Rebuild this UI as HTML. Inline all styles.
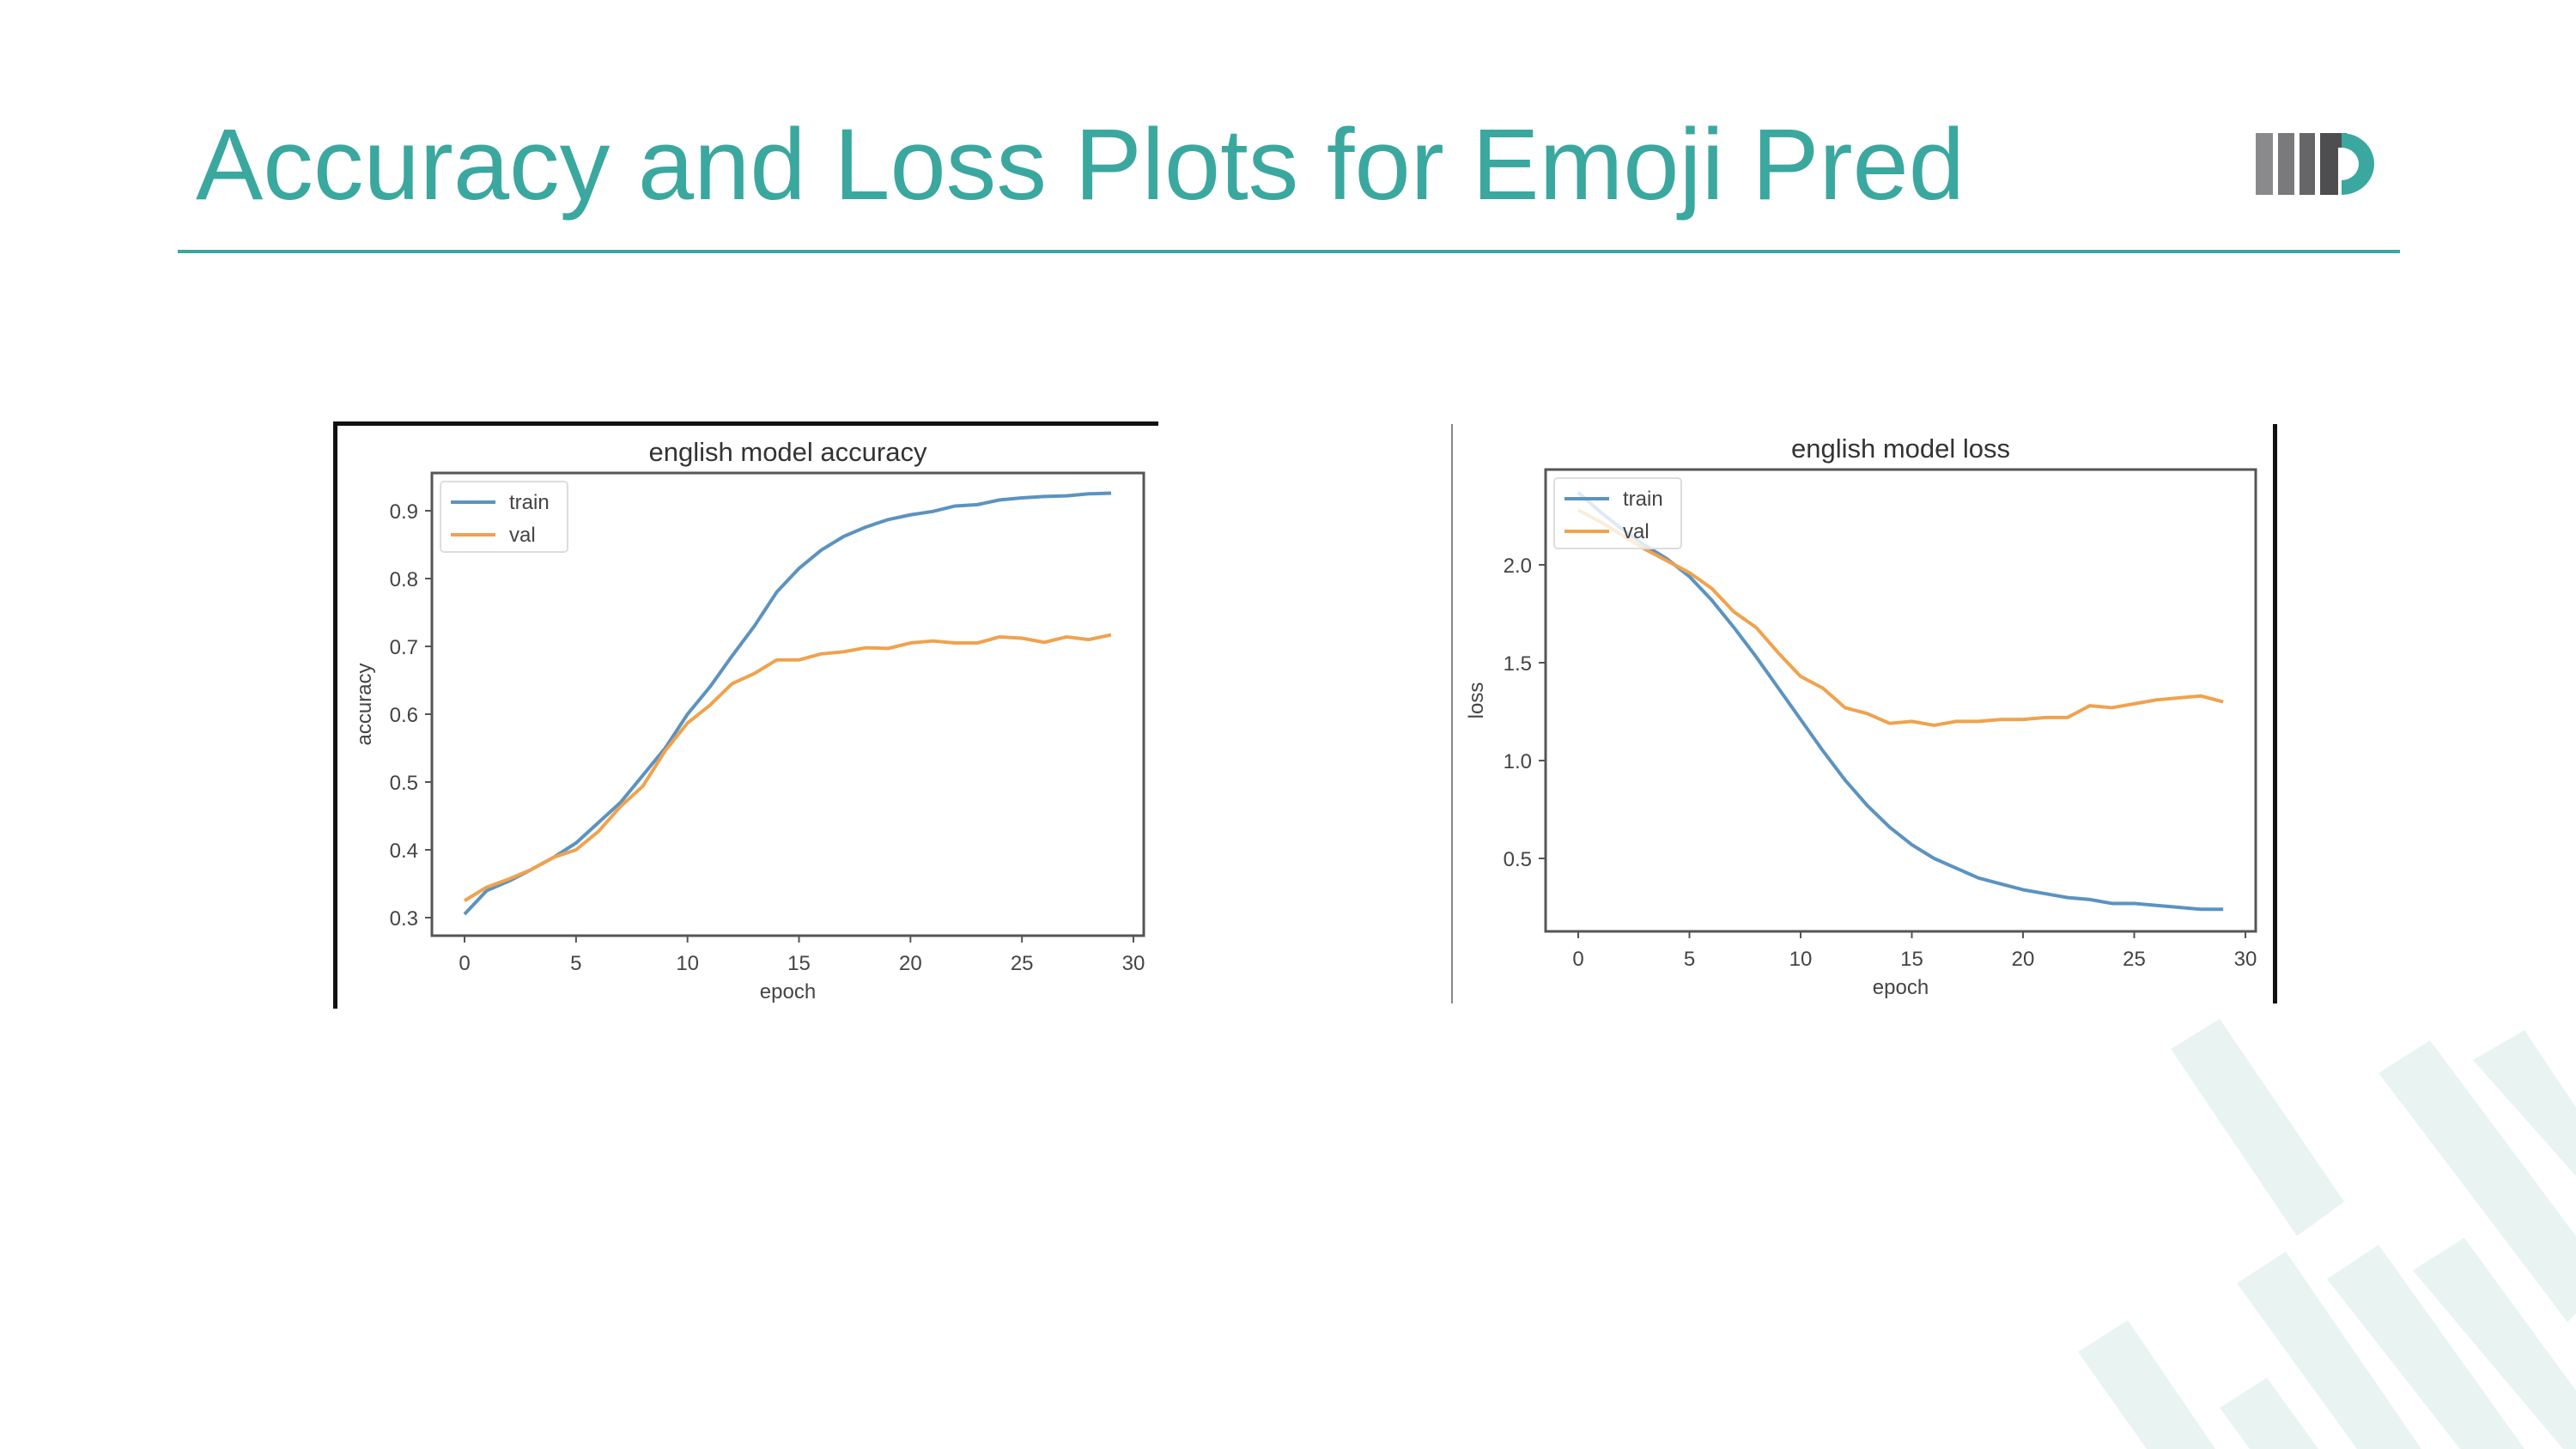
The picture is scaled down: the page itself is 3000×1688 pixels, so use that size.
<!DOCTYPE html>
<html><head><meta charset="utf-8"><style>
html,body{margin:0;padding:0;background:#fff;}
svg{display:block;font-family:"Liberation Sans",sans-serif;}
</style></head><body>
<svg id="s" width="3000" height="1688" viewBox="0 0 3000 1688" xmlns="http://www.w3.org/2000/svg">
<g fill="#e9f4f2">
<polygon points="2528,1222 2585,1187 2730,1400 2675,1440"/>
<polygon points="2770,1250 2830,1212 3000,1440 3000,1530 2990,1540"/>
<polygon points="2880,1235 2940,1200 3000,1290 3000,1370"/>
<polygon points="2605,1495 2662,1458 2820,1688 2745,1688"/>
<polygon points="2710,1490 2770,1450 2940,1688 2865,1688"/>
<polygon points="2810,1480 2870,1442 3000,1620 3000,1688 2985,1688"/>
<polygon points="2420,1575 2478,1538 2580,1688 2500,1688"/>
<polygon points="2585,1640 2640,1605 2700,1688 2620,1688"/>
</g>
<text x="228" y="232" font-size="118" fill="#3aa89f" font-family="'Liberation Sans',sans-serif" textLength="2060" lengthAdjust="spacingAndGlyphs">Accuracy and Loss Plots for Emoji Pred</text>
<rect x="207" y="291" width="2588" height="4" fill="#3aa89f"/>
<g>
<rect x="2627" y="155" width="20" height="72" fill="#8a8a8c"/>
<rect x="2653" y="155" width="19" height="72" fill="#7a7a7c"/>
<rect x="2678" y="155" width="18" height="72" fill="#666668"/>
<path d="M2702,155 H2733 V172 H2723 V227 H2702 Z" fill="#4e4e50"/>
<path d="M2727,155 A38,36 0 0 1 2727,227 V210 A20,19 0 0 0 2727,172 Z" fill="#3aa89f"/>
</g>
<rect x="388" y="492" width="5" height="683" fill="#111"/>
<rect x="388" y="491" width="961" height="5" fill="#111"/>
<rect x="1690" y="494" width="2" height="675" fill="#888"/>
<rect x="2647" y="494" width="5" height="675" fill="#111"/>
<g id="c1"></g>
<g id="c2"></g>
</svg>
<script>
const epochs = [0,1,2,3,4,5,6,7,8,9,10,11,12,13,14,15,16,17,18,19,20,21,22,23,24,25,26,27,28,29];
const accTrain = [0.305,0.34,0.354,0.371,0.389,0.41,0.44,0.47,0.51,0.55,0.60,0.64,0.686,0.73,0.78,0.815,0.842,0.862,0.876,0.887,0.894,0.899,0.907,0.909,0.916,0.919,0.921,0.922,0.925,0.926];
const accVal = [0.325,0.345,0.357,0.371,0.389,0.40,0.427,0.464,0.494,0.546,0.587,0.613,0.645,0.66,0.68,0.68,0.689,0.692,0.698,0.697,0.705,0.708,0.705,0.705,0.714,0.712,0.706,0.714,0.71,0.717];
const lossTrain = [2.37,2.27,2.18,2.10,2.03,1.94,1.82,1.68,1.53,1.37,1.21,1.05,0.90,0.77,0.66,0.57,0.50,0.45,0.40,0.37,0.34,0.32,0.30,0.29,0.27,0.27,0.26,0.25,0.24,0.24];
const lossVal = [2.28,2.22,2.15,2.08,2.02,1.96,1.88,1.76,1.68,1.55,1.43,1.37,1.27,1.24,1.19,1.20,1.18,1.20,1.20,1.21,1.21,1.22,1.22,1.28,1.27,1.29,1.31,1.32,1.33,1.30];
const xTicks = [0,5,10,15,20,25,30];
const accTicks = [0.3,0.4,0.5,0.6,0.7,0.8,0.9];
const accTickLabels = ["0.3","0.4","0.5","0.6","0.7","0.8","0.9"];
const lossTicks = [0.5,1.0,1.5,2.0];
const lossTickLabels = ["0.5","1.0","1.5","2.0"];

const NS='http://www.w3.org/2000/svg';
function mk(parent, tag, attrs){const e=document.createElementNS(NS,tag);for(const k in attrs)e.setAttribute(k,attrs[k]);parent.appendChild(e);return e;}

function chart(g, cfg){
  const sx=v=>cfg.x0px+(v-0)*(cfg.x30px-cfg.x0px)/30;
  const sy=v=>cfg.yApx+(v-cfg.yA)*(cfg.yBpx-cfg.yApx)/(cfg.yB-cfg.yA);
  const box=mk(g,'rect',{x:cfg.L,y:cfg.T,width:cfg.R-cfg.L,height:cfg.B-cfg.T,fill:'#fff',stroke:'#555','stroke-width':3});
  
  
  xTicks.forEach(t=>{
    const x=sx(t);
    const l=mk(g,'line',{x1:x,x2:x,y1:cfg.B,y2:cfg.B+8,stroke:'#555','stroke-width':2});
    
    
    const tx=mk(g,'text',{x:x,y:cfg.B+40,'font-size':24,'text-anchor':'middle',fill:'#444'});
    
    
    tx.textContent=t;
  });
  cfg.ticks.forEach((t,i)=>{
    const y=sy(t);
    const l=mk(g,'line',{x1:cfg.L-8,x2:cfg.L,y1:y,y2:y,stroke:'#555','stroke-width':2});
    
    
    const tx=mk(g,'text',{x:cfg.L-16,y:y+9,'font-size':24,'text-anchor':'end',fill:'#444'});
    
    
    tx.textContent=cfg.tickLabels[i];
  });
  [[cfg.train,'#5b93c0','train-line'],[cfg.val,'#f0a24e','val-line']].forEach(([d,c,n])=>{
    const p=mk(g,'polyline',{points:d.map((v,i)=>sx(epochs[i])+','+sy(v)).join(' '),fill:'none',stroke:c,'stroke-width':4,'stroke-linejoin':'round'});
    
    
  });
  const t=mk(g,'text',{x:(cfg.L+cfg.R)/2,y:cfg.T-14,'font-size':31,'text-anchor':'middle',fill:'#333'});
  
  
  t.textContent=cfg.title;
  const xl=mk(g,'text',{x:(cfg.L+cfg.R)/2,y:cfg.B+73,'font-size':24,'text-anchor':'middle',fill:'#444'});
  
  
  xl.textContent='epoch';
  const yl=mk(g,'text',{x:0,y:0,'font-size':24,'text-anchor':'middle',fill:'#444',transform:'translate('+cfg.ylx+','+(cfg.T+cfg.B)/2+') rotate(-90)'});
  
  
  yl.textContent=cfg.ylabel;
  const lg=mk(g,'g',{});
  
  
  mk(lg,'rect',{x:cfg.L+10,y:cfg.T+10,width:148,height:82,rx:4,fill:'rgba(255,255,255,0.8)',stroke:'#ddd','stroke-width':2});
  [['train','#5b93c0',cfg.T+34],['val','#f0a24e',cfg.T+72]].forEach(([n,c,y])=>{
    const e=mk(lg,'g',{});
    
    
    mk(e,'line',{x1:cfg.L+22,x2:cfg.L+74,y1:y,y2:y,stroke:c,'stroke-width':4});
    const tx=mk(e,'text',{x:cfg.L+90,y:y+8,'font-size':24,fill:'#444'});
    tx.textContent=n;
  });
}
chart(document.getElementById('c1'),{L:503,R:1332,T:551,B:1090,x0px:541,x30px:1320,yA:0.3,yApx:1069,yB:0.9,yBpx:595,ticks:accTicks,tickLabels:accTickLabels,train:accTrain,val:accVal,title:'english model accuracy',ylabel:'accuracy',ylx:432});
chart(document.getElementById('c2'),{L:1800,R:2627,T:547,B:1085,x0px:1838,x30px:2615,yA:0.5,yApx:1000,yB:2.0,yBpx:658,ticks:lossTicks,tickLabels:lossTickLabels,train:lossTrain,val:lossVal,title:'english model loss',ylabel:'loss',ylx:1727});
</script>
</body></html>
